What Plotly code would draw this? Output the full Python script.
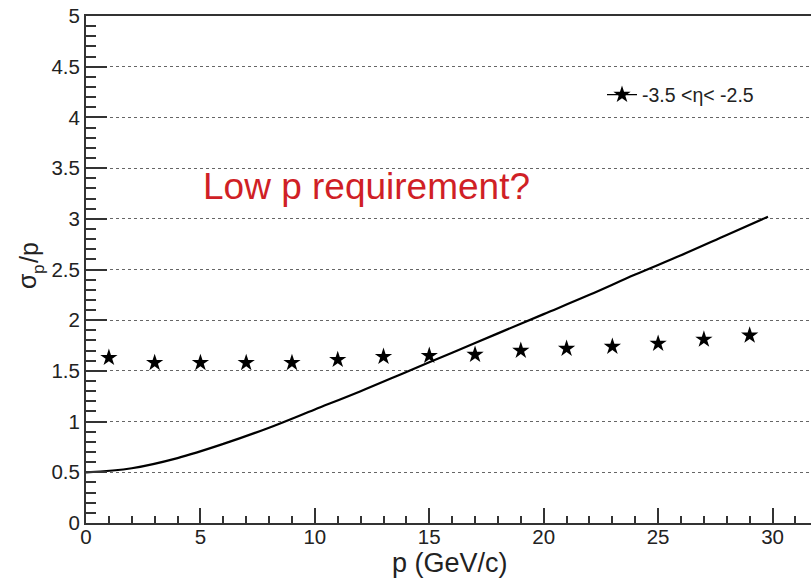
import plotly.graph_objects as go

# Star markers: -3.5 < eta < -2.5
p_pts = [1, 3, 5, 7, 9, 11, 13, 15, 17, 19, 21, 23, 25, 27, 29]
sig_pts = [1.63, 1.58, 1.58, 1.58, 1.58, 1.61, 1.64, 1.65, 1.66, 1.70, 1.72, 1.74, 1.77, 1.81, 1.85]

# Requirement curve
p_curve = [0, 2, 4, 6, 8, 10, 12, 14, 16, 18, 20, 22, 24, 26, 28, 29.8]
sig_curve = [0.50, 0.54, 0.64, 0.78, 0.94, 1.12, 1.30, 1.49, 1.68, 1.87, 2.06, 2.25, 2.45, 2.64, 2.84, 3.02]

legend_label = "-3.5 <η< -2.5"
note_text = "Low p requirement?"

FONT = "Liberation Sans, Arial, sans-serif"
W, H = 811, 581
ML, MR, MT, MB = 86, 0, 16, 58

fig = go.Figure()
fig.add_trace(go.Scatter(x=p_curve, y=sig_curve, mode="lines",
                         line=dict(color="black", width=2.2, shape="spline"),
                         showlegend=False, hoverinfo="skip"))
fig.add_trace(go.Scatter(x=p_pts, y=sig_pts, mode="markers",
                         marker=dict(symbol="star", size=13, color="black"),
                         showlegend=False))
fig.add_trace(go.Scatter(x=[None], y=[None], mode="lines+markers", name=legend_label,
                         line=dict(color="black", width=1.2),
                         marker=dict(symbol="star", size=13, color="black")))

axcol = "#333333"
fig.update_xaxes(range=[0, 31.68], showgrid=False, zeroline=False,
                 showline=True, linecolor=axcol, linewidth=2, mirror=True,
                 ticks="inside", ticklen=15, tickwidth=1.5, tickcolor=axcol,
                 tickmode="linear", tick0=0, dtick=5,
                 minor=dict(ticks="inside", ticklen=7, tickwidth=1.5, tickcolor=axcol, dtick=1, showgrid=False),
                 ticklabelstandoff=-6,
                 tickfont=dict(family=FONT, size=20.5, color="#222"))
fig.update_yaxes(range=[0, 5], zeroline=False,
                 showgrid=True, gridcolor="#666", gridwidth=1, griddash="dot",
                 showline=True, linecolor=axcol, linewidth=2,
                 ticks="inside", ticklen=21, tickwidth=1.5, tickcolor=axcol,
                 tickmode="linear", tick0=0, dtick=0.5,
                 minor=dict(ticks="inside", ticklen=10, tickwidth=1.5, tickcolor=axcol, dtick=0.1, showgrid=False),
                 tickfont=dict(family=FONT, size=20.5, color="#222"))

pw = W - ML - MR
ph = H - MT - MB
def px(x):
    return (x - ML) / pw
def py(y):
    return (H - MB - y) / ph

fig.add_shape(type="rect", xref="paper", yref="paper",
              x0=px(600), x1=px(773), y0=py(140), y1=py(55),
              fillcolor="white", line=dict(width=0), layer="between")

def ann(text, x, y, size, angle=0, color="#222"):
    fig.add_annotation(text=text, xref="paper", yref="paper", x=px(x), y=py(y),
                       xanchor="center", yanchor="middle", textangle=angle,
                       showarrow=False, font=dict(family=FONT, size=size, color=color))

ann(note_text, 366, 187, 37, color="#d01f26")
# y axis title: sigma_p / p (rotated)
ann("σ", 27, 281, 25, angle=-90)
ann("p", 38, 270, 17, angle=-90)
ann("/p", 29, 253, 25, angle=-90)
ann("p (GeV/c)", 450, 563, 27)

fig.update_layout(width=W, height=H, margin=dict(l=ML, r=MR, t=MT, b=MB, autoexpand=False),
                  plot_bgcolor="white", paper_bgcolor="white",
                  legend=dict(x=px(602), y=py(95), xanchor="left", yanchor="middle",
                              bgcolor="rgba(0,0,0,0)", borderwidth=0,
                              font=dict(family=FONT, size=19.5, color="#222")),
                  showlegend=True)

fig.write_html("out.html")
